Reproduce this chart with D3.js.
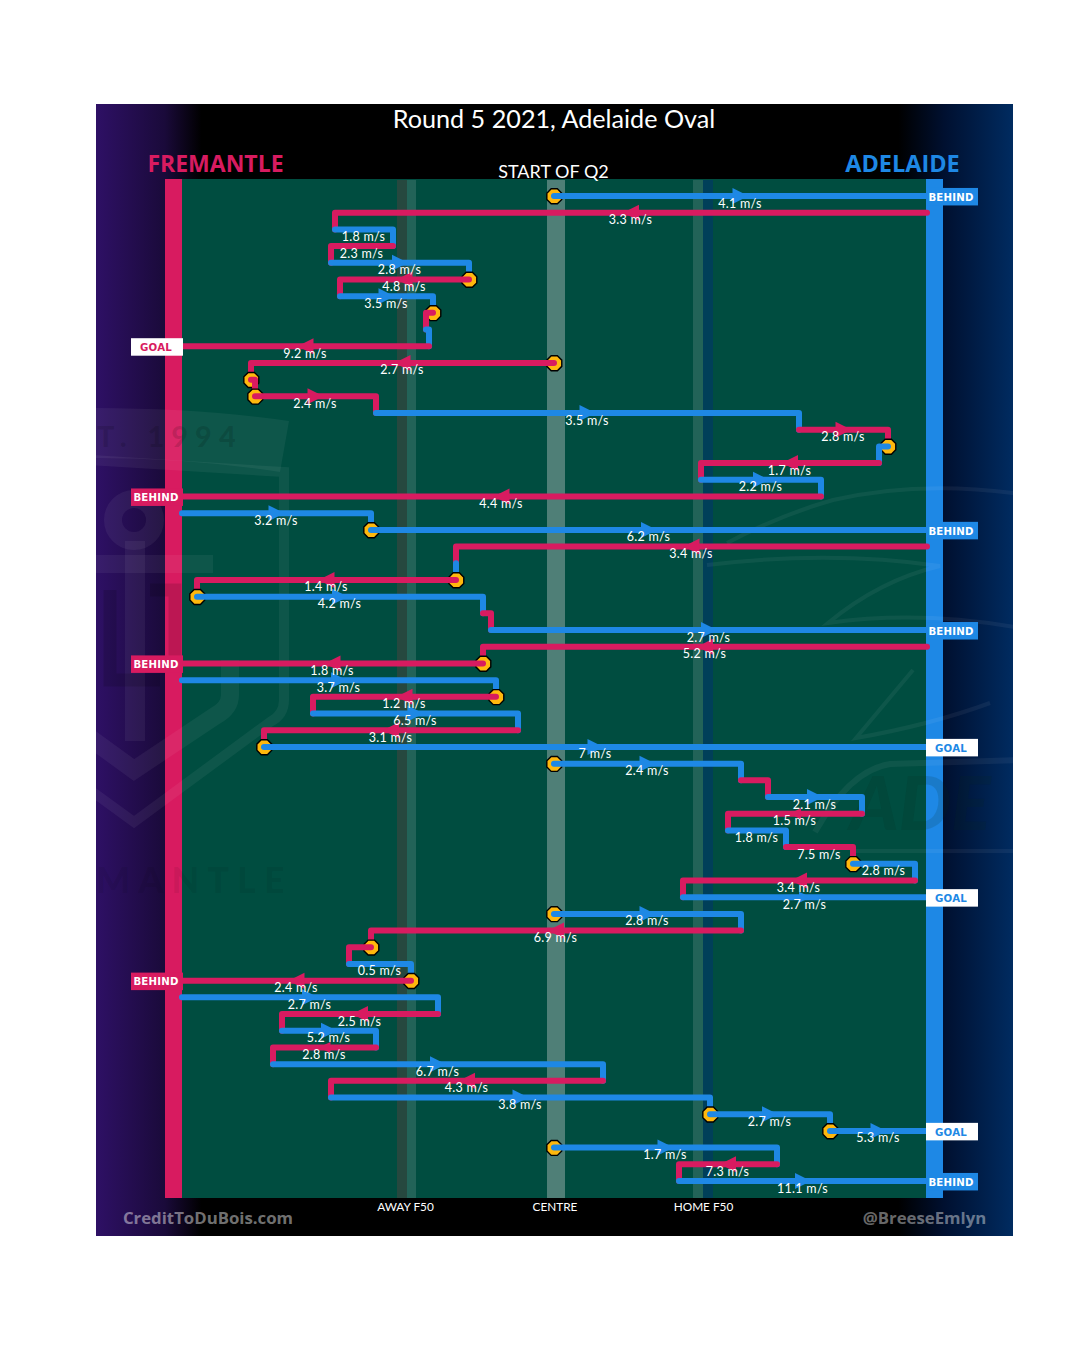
<!DOCTYPE html>
<html>
<head>
<meta charset="utf-8">
<script src="https://cdn.jsdelivr.net/npm/d3@7"></script>
<style>
html,body{margin:0;padding:0;background:#fff}
svg{display:block}
text{font-family:Lato,sans-serif}
</style>
</head>
<body>
<svg id="chart" width="1080" height="1355"></svg>
<script>
// --- data: one entry per disposal, in time order; x is field position, row is the order of play
const xStart = [372,745,153,211,149,287,158,251,244,247,372,69,73,194,617,706,697,519,639,0,189,745,274,274,15,301,309,745,301,0,314,131,336,82,372,559,586,680,546,604,671,733,501,372,559,189,167,229,0,256,100,194,91,421,149,528,648,372,595,497];
const xEnd   = [745,153,211,149,287,158,251,244,247,0,69,73,194,617,706,697,519,639,0,189,745,274,274,15,301,309,745,301,0,314,131,336,82,745,559,586,680,546,604,671,733,501,745,559,189,167,229,0,256,100,194,91,421,149,528,648,745,595,497,745];
const team   = ("AFAFAFAFAF"+"FFFAFAFAFA"+"AFAFAFAFFA"+"FAFAAFAFAF"+"AFAAFFAFAF"+"AFAFAAAAFA").split("");
const speed  = [4.1,3.3,1.8,2.3,2.8,4.8,3.5,null,null,9.2,2.7,null,2.4,3.5,2.8,null,1.7,2.2,4.4,3.2,6.2,3.4,null,1.4,4.2,null,2.7,5.2,1.8,3.7,1.2,6.5,3.1,7,2.4,null,2.1,1.5,1.8,7.5,2.8,3.4,2.7,2.8,6.9,null,0.5,2.4,2.7,2.5,5.2,2.8,6.7,4.3,3.8,2.7,5.3,1.7,7.3,11.1];
const stopRows   = [0,5,7,10,11,12,15,20,23,24,28,30,33,34,40,43,45,47,55,56,57];
const smallArrow = [37,42,51];
const noArrow    = [2,3,7,8,11,15,22,25,35,38,39,40,45,46];
const outcomeRow  = [0,9,18,20,26,28,33,42,47,56,59];
const outcomeText = ["BEHIND","GOAL","BEHIND","BEHIND","BEHIND","BEHIND","GOAL","GOAL","BEHIND","GOAL","BEHIND"];
const tickValues = [223,372.5,521];
const tickLabels = ["AWAY F50","CENTRE","HOME F50"];
const bandX0 = [215,225,365,511,521];
const bandX1 = [225,234,383,521,531];
const bandFill = ["#26483f","#226358","#4f7f77","#226358","#003f59"];
const colour = {F:"#d81b60", A:"#1e88e5"};

const svg = d3.select("#chart");
const x = d3.scaleLinear().domain([0,745]).range([182,927]);
const y = d3.scaleLinear().domain([0,59]).range([196,1181]);
const n = xStart.length;

// background
const defs = svg.append("defs");
const g = defs.append("linearGradient").attr("id","bg");
[[0,"#2e1065"],[0.075,"#1a0a3a"],[0.115,"#000"],[0.875,"#000"],[0.925,"#001030"],[1,"#002b60"]]
  .forEach(s=>g.append("stop").attr("offset",s[0]).attr("stop-color",s[1]));
defs.append("clipPath").attr("id","panel").append("rect").attr("x",96).attr("y",104).attr("width",917).attr("height",1132);
svg.append("rect").attr("x",96).attr("y",104).attr("width",917).attr("height",1132).attr("fill","url(#bg)");
svg.append("rect").attr("x",x(0)).attr("y",179).attr("width",x(745)-x(0)).attr("height",1019).attr("fill","#004d40");
svg.selectAll(".band").data(bandX0).join("rect").attr("x",d=>x(d))
  .attr("y",180).attr("height",1018).attr("width",(d,i)=>x(bandX1[i])-x(d)).attr("fill",(d,i)=>bandFill[i]);
svg.append("rect").attr("x",165).attr("y",179).attr("width",17).attr("height",1019).attr("fill",colour.F);
svg.append("rect").attr("x",926).attr("y",179).attr("width",17).attr("height",1019).attr("fill",colour.A);

// faint club logos
const wm = svg.append("g").attr("clip-path","url(#panel)").attr("fill","none");
const lite = "rgba(255,255,255,0.055)", dark = "rgba(0,0,0,0.13)";
wm.append("path").attr("d","M90,408 Q200,408 289,421 L280,472 Q190,458 90,458 Z").attr("fill",lite);
wm.append("path").attr("d","M90,460 L284,472 L284,700 Q284,715 270,722 L134,822 L90,790").attr("stroke",lite).attr("stroke-width",10);
wm.append("path").attr("d","M230,660 L230,695 Q230,708 215,716 L134,770 L90,738").attr("stroke",lite).attr("stroke-width",18);
wm.append("circle").attr("cx",134).attr("cy",520).attr("r",21).attr("stroke",lite).attr("stroke-width",18);
wm.append("rect").attr("x",96).attr("y",555).attr("width",117).attr("height",18).attr("fill",lite);
wm.append("rect").attr("x",125).attr("y",541).attr("width",20).attr("height",200).attr("fill",lite);
wm.append("path").attr("d","M110,590 L110,680 L160,680 M150,590 L175,590 L175,660").attr("stroke",dark).attr("stroke-width",13);
wm.append("text").attr("x",97).attr("y",447).text("T. 1994").attr("fill",dark).attr("font-size",29).attr("font-weight",900).attr("letter-spacing",7);
wm.append("text").attr("x",96).attr("y",893).text("MANTLE").attr("fill","rgba(0,0,0,0.08)").attr("font-size",36).attr("font-weight",900).attr("letter-spacing",8);
wm.append("path").attr("d","M727,543 Q780,515 833,500 Q920,480 1020,494").attr("stroke",lite).attr("stroke-width",4);
wm.append("path").attr("d","M707,565 Q830,550 940,566 Q880,580 828,623 Q920,610 1020,628").attr("stroke",lite).attr("stroke-width",4);
wm.append("path").attr("d","M913,670 L856,738 Q930,725 990,703").attr("stroke",lite).attr("stroke-width",4);
wm.append("path").attr("d","M815,832 Q850,770 890,764 L1020,760").attr("stroke",lite).attr("stroke-width",6);
wm.append("path").attr("d","M850,851 L1020,851").attr("stroke",lite).attr("stroke-width",4);
wm.append("text").attr("x",850).attr("y",830).text("ADE").attr("fill","rgba(10,40,30,0.14)").attr("font-size",74).attr("font-weight",900).attr("font-style","italic");

// title and team names
const label = (t,px,py,size,fill,weight)=>svg.append("text").attr("x",px).attr("y",py).attr("text-anchor","middle")
  .attr("font-size",size).attr("fill",fill).attr("font-weight",weight||400).text(t);
label("Round 5 2021, Adelaide Oval",554,128,25.2,"#fff").style("font-family","Lato");
label("START OF Q2",553.5,178,18,"#fff");
label("FREMANTLE",215.5,172,23,colour.F,700).style("font-family","'Open Sans'");
label("ADELAIDE",902.5,172,23.5,colour.A,700).style("font-family","'Open Sans'");
label("CreditToDuBois.com",208,1224,16.8,"rgba(255,255,255,0.45)",700).style("font-family","'Open Sans'");
label("@BreeseEmlyn",924.5,1224,16.8,"rgba(255,255,255,0.42)",700).style("font-family","'Open Sans'");

// axis
const axis = d3.axisBottom(x).tickValues(tickValues).tickFormat((d,i)=>tickLabels[i]).tickSize(0).tickPadding(5);
const ax = svg.append("g").attr("transform","translate(0,1198)").call(axis);
ax.select(".domain").remove();
ax.selectAll("text").attr("fill","#fff").attr("font-size",11.8).style("font-family","Lato");

// disposals
const octagon = d3.lineRadial().angle((d,i)=>Math.PI/8+i*Math.PI/4).radius(8.1).curve(d3.curveLinearClosed);
const rows = d3.range(n);
const rowG = svg.append("g").selectAll("g").data(rows).join("g");
rowG.filter(i=>stopRows.includes(i)).append("path")
  .attr("transform",i=>`translate(${x(xStart[i])+0.3},${y(i)+0.3})`)
  .attr("d",octagon(d3.range(8))).attr("fill","#ffb80d").attr("stroke","#000").attr("stroke-width",1.4);
const link = d3.line();
rowG.append("path").attr("fill","none").attr("stroke",i=>colour[team[i]]).attr("stroke-width",6)
  .attr("stroke-linecap","round").attr("stroke-linejoin","round")
  .attr("d",i=>{
    const pts=[[x(xStart[i]),y(i)],[x(xEnd[i]),y(i)]];
    if(i<n-1 && xStart[i+1]===xEnd[i] && xEnd[i]>0 && xEnd[i]<745) pts.push([x(xEnd[i]),y(i+1)]);
    return link(pts);
  });
rowG.filter(i=>!noArrow.includes(i)).append("path").attr("fill",i=>colour[team[i]])
  .attr("d",i=>{
    const mid=(x(xStart[i])+x(xEnd[i]))/2, dir=Math.sign(xEnd[i]-xStart[i]);
    const small=smallArrow.includes(i), w=small?6:8, h=small?5.5:8;
    return d3.line()([[mid-dir*w,y(i)-h],[mid+dir*w,y(i)],[mid-dir*w,y(i)+h]])+"Z";
  });

// speeds
svg.append("g").selectAll("text").data(rows.filter(i=>speed[i]!==null)).join("text")
  .attr("x",i=>(x(xStart[i])+x(xEnd[i]))/2-0.5).attr("y",i=>y(i)+11.5)
  .attr("text-anchor","middle").attr("fill","#fff").attr("font-size",12.5).attr("letter-spacing",0.3)
  .text(i=>`${speed[i]} m/s`);

// outcomes
const oG = svg.append("g").selectAll("g").data(outcomeRow).join("g")
  .attr("transform",r=>`translate(${xEnd[r]===0?157:952},${y(r)+0.7})`);
oG.append("rect").attr("x",-26).attr("y",-8.75).attr("width",52).attr("height",17.5)
  .attr("fill",(r,i)=>outcomeText[i]==="GOAL"?"#fff":colour[team[r]]);
oG.append("text").attr("text-anchor","middle").attr("x",-1).attr("y",4).attr("font-size",10.2).attr("font-weight",700)
  .attr("letter-spacing",0.2).style("font-family","'DejaVu Sans'")
  .attr("fill",(r,i)=>outcomeText[i]==="GOAL"?colour[team[r]]:"#fff").text((r,i)=>outcomeText[i]);
</script>
</body>
</html>
